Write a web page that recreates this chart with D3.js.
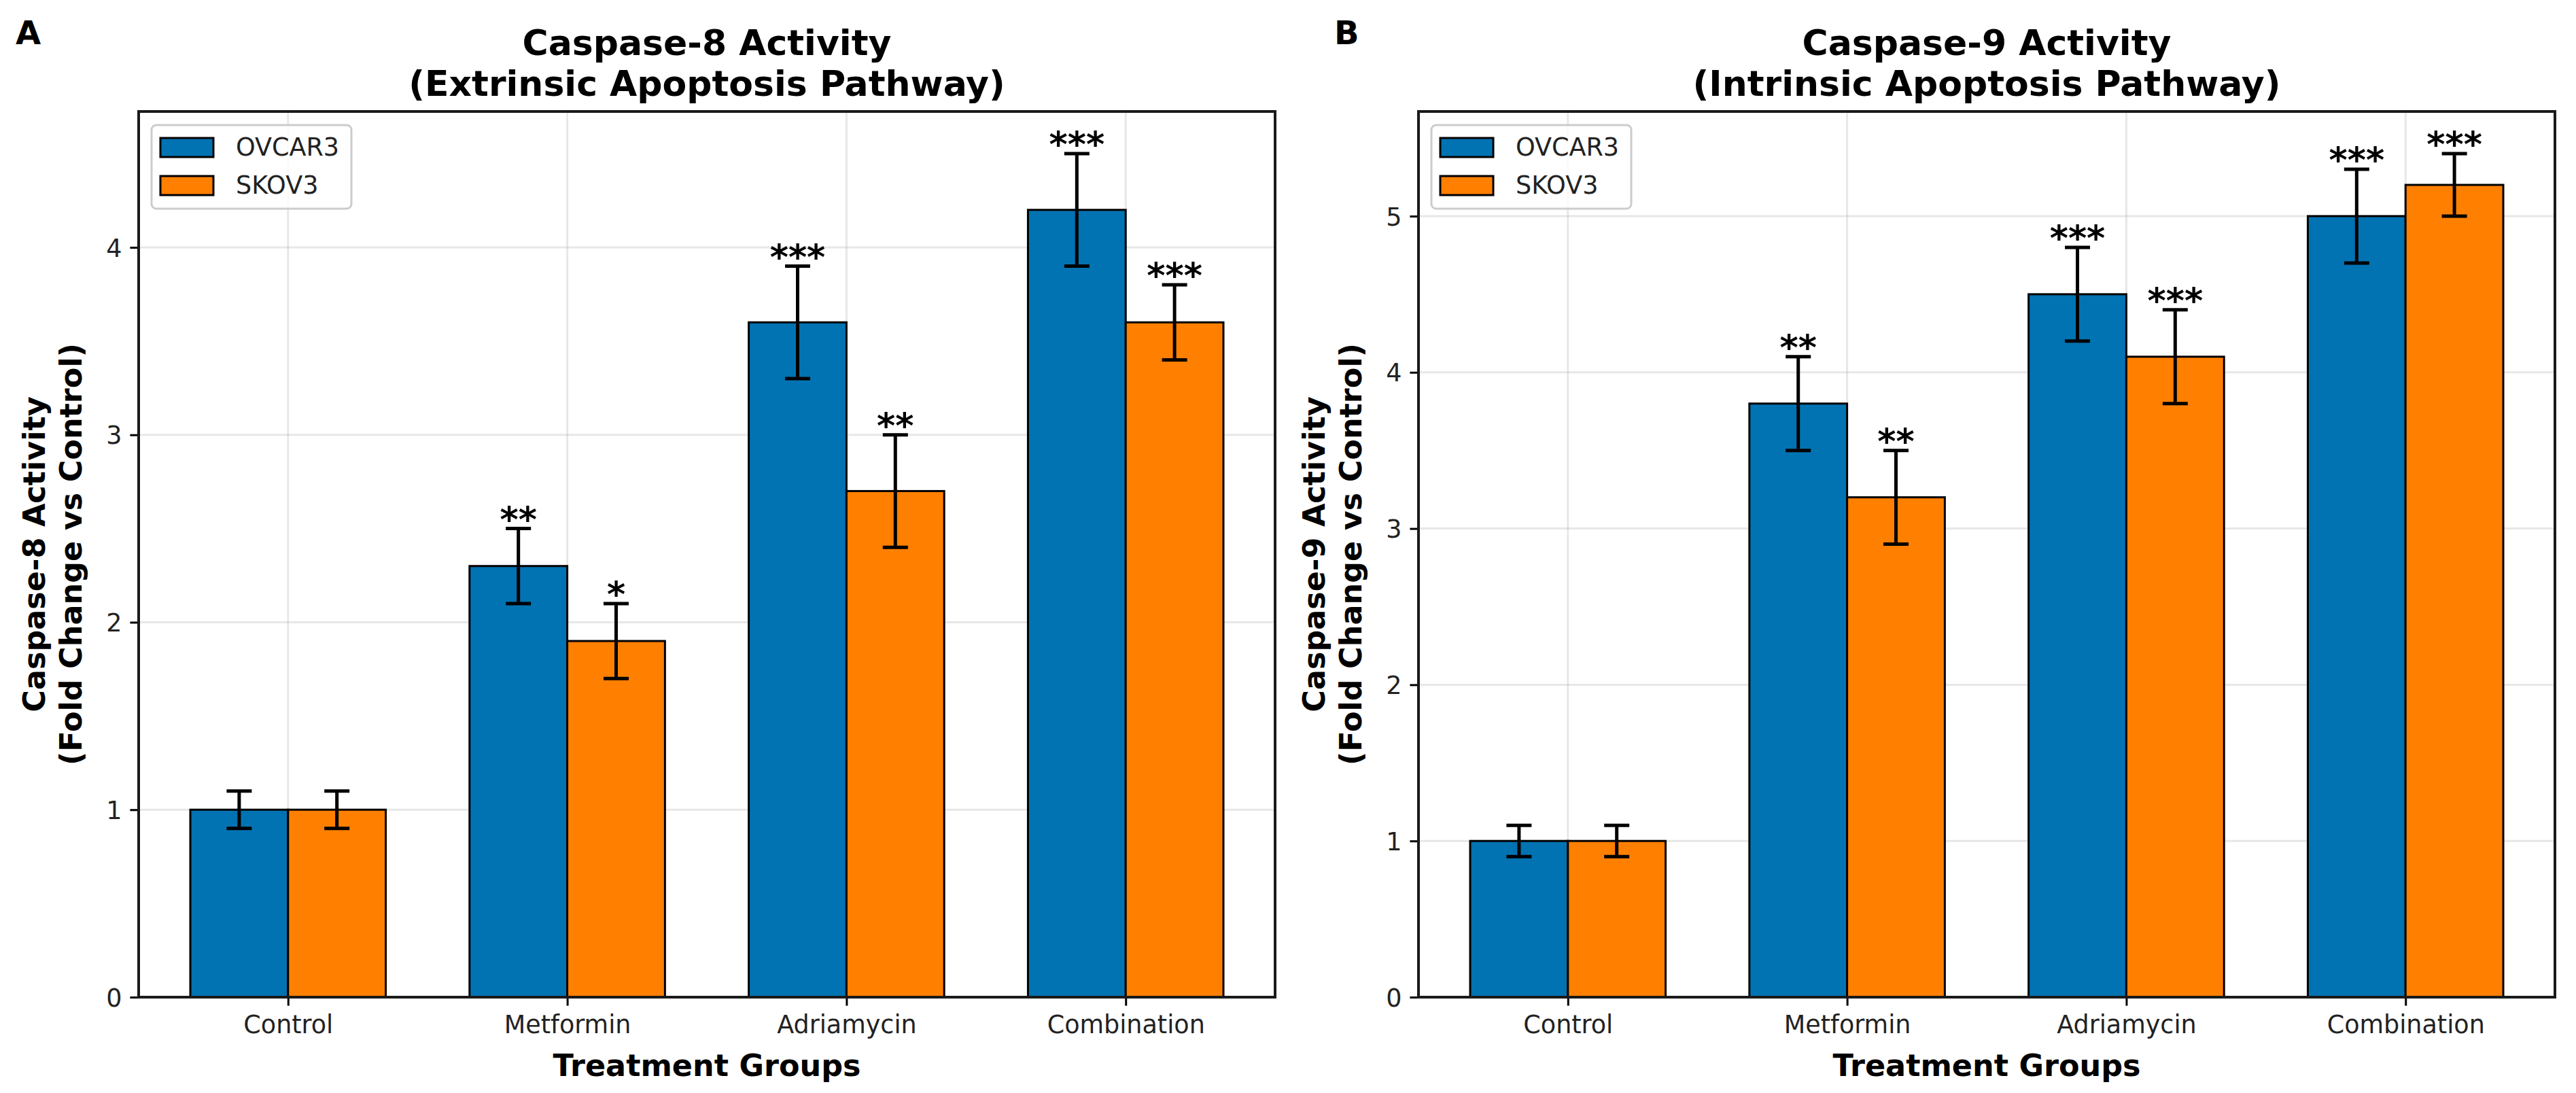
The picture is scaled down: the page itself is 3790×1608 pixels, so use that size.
<!DOCTYPE html>
<html>
<head>
<meta charset="utf-8">
<script src="https://cdn.jsdelivr.net/npm/d3@7"></script>
<style>
  html, body { margin: 0; padding: 0; background: #ffffff; }
  svg { display: block; font-family: "DejaVu Sans", sans-serif; }
</style>
</head>
<body>
<svg id="chart" width="3790" height="1608"></svg>
<script>
// ---------------- data ----------------
const categories = ["Control", "Metformin", "Adriamycin", "Combination"];
const seriesNames = ["OVCAR3", "SKOV3"];
const seriesColors = ["#0173B2", "#FF7F00"];

// Panel A: Caspase-8
const casp8_OVCAR3 = [1.0, 2.3, 3.6, 4.2];
const casp8_OVCAR3_err = [0.1, 0.2, 0.3, 0.3];
const casp8_SKOV3 = [1.0, 1.9, 2.7, 3.6];
const casp8_SKOV3_err = [0.1, 0.2, 0.3, 0.2];
const casp8_OVCAR3_sig = ["", "**", "***", "***"];
const casp8_SKOV3_sig = ["", "*", "**", "***"];
const casp8_ticks = [0, 1, 2, 3, 4];

// Panel B: Caspase-9
const casp9_OVCAR3 = [1.0, 3.8, 4.5, 5.0];
const casp9_OVCAR3_err = [0.1, 0.3, 0.3, 0.3];
const casp9_SKOV3 = [1.0, 3.2, 4.1, 5.2];
const casp9_SKOV3_err = [0.1, 0.3, 0.3, 0.2];
const casp9_OVCAR3_sig = ["", "**", "***", "***"];
const casp9_SKOV3_sig = ["", "**", "***", "***"];
const casp9_ticks = [0, 1, 2, 3, 4, 5];

const panels = [
  {
    letter: "A",
    title: ["Caspase-8 Activity", "(Extrinsic Apoptosis Pathway)"],
    ylabel: ["Caspase-8 Activity", "(Fold Change vs Control)"],
    values: [casp8_OVCAR3, casp8_SKOV3],
    errors: [casp8_OVCAR3_err, casp8_SKOV3_err],
    sig: [casp8_OVCAR3_sig, casp8_SKOV3_sig],
    ticks: casp8_ticks
  },
  {
    letter: "B",
    title: ["Caspase-9 Activity", "(Intrinsic Apoptosis Pathway)"],
    ylabel: ["Caspase-9 Activity", "(Fold Change vs Control)"],
    values: [casp9_OVCAR3, casp9_SKOV3],
    errors: [casp9_OVCAR3_err, casp9_SKOV3_err],
    sig: [casp9_OVCAR3_sig, casp9_SKOV3_sig],
    ticks: casp9_ticks
  }
];

// ---------------- layout ----------------
const svg = d3.select("#chart");
const layout = [
  { left: 204, right: 1876, letterX: 23 },
  { left: 2087, right: 3759, letterX: 1963 }
];
const plotTop = 164, plotBottom = 1467;
const barW = 0.35;
const PT = 3.7;

panels.forEach((p, pi) => {
  const L = layout[pi];
  const g = svg.append("g");

  const x = d3.scaleLinear().domain([-0.535, 3.535]).range([L.left, L.right]);
  let maxTop = 0;
  p.values.forEach((vals, si) => vals.forEach((v, i) => { maxTop = Math.max(maxTop, v + p.errors[si][i]); }));
  const y = d3.scaleLinear().domain([0, maxTop * 1.05]).range([plotBottom, plotTop]);

  // grid
  const grid = g.append("g");
  grid.selectAll("line.gy").data(p.ticks).join("line")
    .attr("x1", L.left).attr("x2", L.right)
    .attr("y1", d => y(d)).attr("y2", d => y(d))
    .attr("stroke", "#b0b0b0").attr("stroke-opacity", 0.3).attr("stroke-width", 3);
  grid.selectAll("line.gx").data(categories.map((c, i) => i)).join("line")
    .attr("x1", d => x(d)).attr("x2", d => x(d))
    .attr("y1", plotTop).attr("y2", plotBottom)
    .attr("stroke", "#b0b0b0").attr("stroke-opacity", 0.3).attr("stroke-width", 3);

  // bars
  p.values.forEach((vals, si) => {
    const off = si === 0 ? -barW : 0;
    g.append("g").selectAll("rect").data(vals).join("rect")
      .attr("x", (d, i) => x(i + off))
      .attr("width", (d, i) => x(i + off + barW) - x(i + off))
      .attr("y", d => y(d))
      .attr("height", d => y(0) - y(d))
      .attr("fill", seriesColors[si])
      .attr("stroke", "#000").attr("stroke-width", 3);
  });

  // error bars
  const capHalf = 5 * PT;
  p.values.forEach((vals, si) => {
    const off = si === 0 ? -barW / 2 : barW / 2;
    const eg = g.append("g").attr("stroke", "#000").attr("stroke-width", 5);
    vals.forEach((v, i) => {
      const e = p.errors[si][i];
      const cx = x(i + off);
      eg.append("line").attr("x1", cx).attr("x2", cx).attr("y1", y(v - e)).attr("y2", y(v + e));
      eg.append("line").attr("x1", cx - capHalf).attr("x2", cx + capHalf).attr("y1", y(v + e)).attr("y2", y(v + e));
      eg.append("line").attr("x1", cx - capHalf).attr("x2", cx + capHalf).attr("y1", y(v - e)).attr("y2", y(v - e));
      const s = p.sig[si][i];
      if (s) {
        g.append("text")
          .attr("x", cx).attr("y", y(v + e) + 4)
          .attr("text-anchor", "middle")
          .attr("font-size", 52).attr("font-weight", "bold").attr("fill", "#000")
          .text(s);
      }
    });
  });

  // axes
  const yAxis = d3.axisLeft(y).tickValues(p.ticks).tickFormat(d3.format("d")).tickSize(12.6).tickPadding(12);
  const ya = g.append("g").attr("transform", `translate(${L.left},0)`).call(yAxis);
  ya.select(".domain").remove();
  ya.selectAll(".tick line").attr("stroke", "#000").attr("stroke-width", 3);
  ya.selectAll(".tick text").attr("font-size", 36.5).attr("fill", "#222").attr("dy", "0.36em")
    .attr("font-family", "DejaVu Sans");

  const xAxis = d3.axisBottom(x).tickValues([0, 1, 2, 3]).tickFormat(i => categories[i]).tickSize(12.6).tickPadding(14.4);
  const xa = g.append("g").attr("transform", `translate(0,${plotBottom})`).call(xAxis);
  xa.select(".domain").remove();
  xa.selectAll(".tick line").attr("stroke", "#000").attr("stroke-width", 3);
  xa.selectAll(".tick text").attr("font-size", 36.5).attr("fill", "#222")
    .attr("font-family", "DejaVu Sans");

  // spines
  g.append("rect")
    .attr("x", L.left).attr("y", plotTop)
    .attr("width", L.right - L.left).attr("height", plotBottom - plotTop)
    .attr("fill", "none").attr("stroke", "#1a1a1a").attr("stroke-width", 4);

  // legend
  const lg = g.append("g").attr("transform", `translate(${L.left + 19},184)`);
  lg.append("rect").attr("x", 0).attr("y", 0).attr("width", 294).attr("height", 123)
    .attr("rx", 7).attr("fill", "#fff").attr("fill-opacity", 0.8)
    .attr("stroke", "#cccccc").attr("stroke-width", 3);
  seriesNames.forEach((name, si) => {
    lg.append("rect").attr("x", 13).attr("y", 19 + si * 56).attr("width", 78).attr("height", 28)
      .attr("fill", seriesColors[si]).attr("stroke", "#000").attr("stroke-width", 3);
    lg.append("text").attr("x", 124).attr("y", 45 + si * 56)
      .attr("font-size", 36.5).attr("fill", "#222").text(name);
  });

  // titles
  const cx = (L.left + L.right) / 2;
  g.append("text").attr("x", cx).attr("y", 81).attr("text-anchor", "middle")
    .attr("font-size", 52).attr("font-weight", "bold").text(p.title[0]);
  g.append("text").attr("x", cx).attr("y", 141).attr("text-anchor", "middle")
    .attr("font-size", 52).attr("font-weight", "bold").text(p.title[1]);

  // x label
  g.append("text").attr("x", cx).attr("y", 1583).attr("text-anchor", "middle")
    .attr("font-size", 44.5).attr("font-weight", "bold").text("Treatment Groups");

  // y label
  const cy = (plotTop + plotBottom) / 2;
  const ylx = L.left - 204;
  [0, 1].forEach(k => {
    g.append("text")
      .attr("transform", `translate(${ylx + 66 + k * 54},${cy}) rotate(-90)`)
      .attr("text-anchor", "middle")
      .attr("font-size", 44.5).attr("font-weight", "bold").text(p.ylabel[k]);
  });

  // panel letter
  svg.append("text").attr("x", L.letterX).attr("y", 65)
    .attr("font-size", 48).attr("font-weight", "bold").text(p.letter);
});
</script>
</body>
</html>
